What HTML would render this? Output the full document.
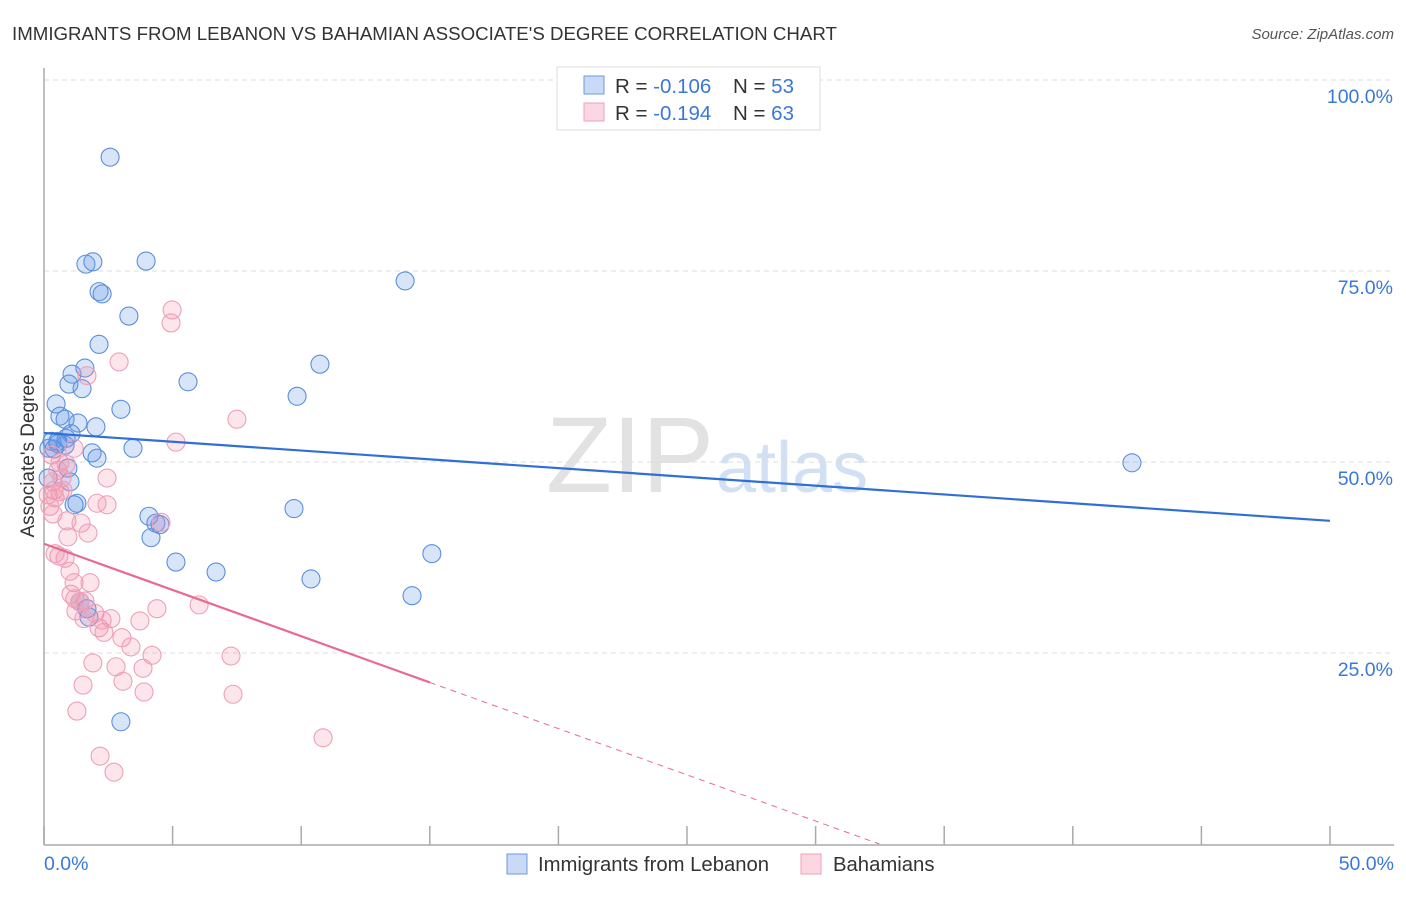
<!DOCTYPE html>
<html><head><meta charset="utf-8"><style>
body{margin:0;background:#fff;font-family:"Liberation Sans",sans-serif;}
svg text{font-family:"Liberation Sans",sans-serif;}
</style></head><body>
<svg id="chart" width="1406" height="892" xmlns="http://www.w3.org/2000/svg">
<text x="12" y="40" font-size="18.7" fill="#333">IMMIGRANTS FROM LEBANON VS BAHAMIAN ASSOCIATE'S DEGREE CORRELATION CHART</text>
<text x="1394" y="39" font-size="15" fill="#555" font-style="italic" text-anchor="end">Source: ZipAtlas.com</text>
<text x="714" y="492" font-size="108" fill="#e2e2e2" font-family="Liberation Serif" text-anchor="end">ZIP</text>
<text x="716" y="492" font-size="72" fill="#d2e0f4">atlas</text>
<g id="grid"></g>
<g id="axes"></g>
<g id="marks"></g>
<text x="34" y="456" font-size="19" fill="#333" text-anchor="middle" transform="rotate(-90 34 456)">Associate's Degree</text>
<g>
<rect x="557" y="67" width="263" height="63" fill="#fff" stroke="#ddd"/>
<rect x="584" y="76" width="20" height="18" fill="rgba(100,150,230,0.35)" stroke="#6a9ae0"/>
<rect x="584" y="103" width="20" height="18" fill="rgba(240,140,170,0.35)" stroke="#eea0b8"/>
<text x="615" y="93" font-size="20.5" fill="#333">R = <tspan fill="#3a78d8">-0.106</tspan></text>
<text x="733" y="93" font-size="20.5" fill="#333">N = <tspan fill="#3a78d8">53</tspan></text>
<text x="615" y="120" font-size="20.5" fill="#333">R = <tspan fill="#3a78d8">-0.194</tspan></text>
<text x="733" y="120" font-size="20.5" fill="#333">N = <tspan fill="#3a78d8">63</tspan></text>
</g>
<g>
<rect x="507" y="854" width="20" height="20" fill="rgba(100,150,230,0.35)" stroke="#6a9ae0"/>
<text x="538" y="871" font-size="20.3" fill="#333">Immigrants from Lebanon</text>
<rect x="801" y="854" width="20" height="20" fill="rgba(240,140,170,0.35)" stroke="#eea0b8"/>
<text x="833" y="871" font-size="20.3" fill="#333">Bahamians</text>
</g>
</svg>
<script>
const yTicks=[25,50,75,100];
const yTickLabels=["25.0%","50.0%","75.0%","100.0%"];
const xLabels=["0.0%","50.0%"];
const blueX=[2.57,1.63,1.9,3.97,14.04,2.14,2.26,3.3,2.14,10.73,1.09,1.59,0.97,1.48,5.6,9.84,2.99,0.47,0.62,0.82,1.32,2.02,1.05,0.31,0.54,0.82,0.19,0.86,3.46,1.87,2.06,0.93,1.01,42.3,0.16,1.28,1.17,9.72,4.08,4.35,4.51,4.16,15.08,5.13,6.69,10.38,14.31,1.4,1.67,1.75,2.99,0.54,0.39];
const blueY=[89.9,75.9,76.2,76.3,73.7,72.3,72.0,69.1,65.4,62.8,61.5,62.3,60.2,59.6,60.5,58.6,56.9,57.6,56.0,55.6,55.1,54.6,53.7,52.7,52.4,52.2,51.8,53.1,51.8,51.2,50.5,49.2,47.4,49.9,47.9,44.6,44.4,43.9,42.9,42.0,41.8,40.1,38.0,36.9,35.6,34.7,32.5,31.7,30.8,29.7,16.0,52.7,51.7];
const pinkX=[7.5,2.92,4.98,4.94,1.67,5.13,1.17,0.54,0.7,0.35,0.39,0.62,0.16,0.43,0.74,0.23,2.45,2.06,2.45,0.35,0.89,1.44,4.55,1.71,0.93,0.58,0.82,1.01,1.17,1.79,1.05,1.2,1.59,1.24,1.98,4.39,6.03,1.55,2.6,3.73,2.14,2.33,3.03,3.38,1.9,2.8,4.2,3.85,7.27,1.52,3.89,3.07,7.35,1.28,10.85,2.18,2.72,0.62,0.31,0.86,2.26,0.43,1.4];
const pinkY=[55.6,63.1,69.9,68.2,61.3,52.6,51.8,48.9,47.9,47.4,46.3,46.1,45.7,45.3,46.3,44.2,47.9,44.6,44.4,43.2,42.3,42.0,42.1,40.7,40.2,37.7,37.4,35.7,34.2,34.2,32.7,32.1,31.8,30.5,30.2,30.8,31.3,29.5,29.5,29.2,28.3,27.7,27.0,25.8,23.7,23.2,24.7,23.0,24.6,20.8,19.9,21.3,19.6,17.4,13.9,11.5,9.4,49.9,50.9,49.7,29.3,38.0,31.7];
const blueTrend=[53.8,42.3]; // y at x=0 and x=50
const pinkTrend=[39.3,-1.21]; // intercept, slope
const pinkSolidEnd=15;
const X=v=>44+v/50*1286, Y=v=>844-v/100*764;
const NS="http://www.w3.org/2000/svg";
function mk(tag,attrs,parent){const e=document.createElementNS(NS,tag);for(const k in attrs)e.setAttribute(k,attrs[k]);document.getElementById(parent).appendChild(e);return e;}
yTicks.forEach((t,i)=>{
 const g=mk('line',{x1:44,x2:1394,y1:Y(t),y2:Y(t),stroke:'#ddd','stroke-dasharray':'5,4'},'grid');
 
 
 const l=mk('text',{x:1393,y:Y(t)+23,'font-size':19.5,fill:'#3a78d8','text-anchor':'end'},'grid');
 l.textContent=yTickLabels[i];
 
 
});
const ax=mk('line',{x1:44,x2:44,y1:68,y2:845,stroke:'#aaa','stroke-width':1.5},'axes');


const bx=mk('line',{x1:44,x2:1394,y1:845,y2:845,stroke:'#aaa','stroke-width':1.5},'axes');


for(let i=0;i<=10;i++){const t=mk('line',{x1:X(i*5),x2:X(i*5),y1:826,y2:845,stroke:'#aaa','stroke-width':1.5},'axes');
 
 }
[[0,'start',44],[50,'end',1394]].forEach((d,i)=>{const t=mk('text',{x:d[2],y:870,'font-size':19.5,fill:'#3a78d8','text-anchor':d[1]},'axes');t.textContent=xLabels[i];
 
 });
blueX.forEach((x,i)=>{const c=mk('circle',{cx:X(x),cy:Y(blueY[i]),r:9,fill:'rgba(100,150,230,0.25)',stroke:'#5a8fdd','stroke-width':1.1},'marks');
 
 });
pinkX.forEach((x,i)=>{const c=mk('circle',{cx:X(x),cy:Y(pinkY[i]),r:9,fill:'rgba(240,140,170,0.22)',stroke:'#eea0b8','stroke-width':1.1},'marks');
 
 });
const bl=mk('line',{x1:X(0),y1:Y(blueTrend[0]),x2:X(50),y2:Y(blueTrend[1]),stroke:'#2f6fd6','stroke-width':2.2},'marks');


const pEnd=-pinkTrend[0]/pinkTrend[1];
const pl=mk('line',{x1:X(0),y1:Y(pinkTrend[0]),x2:X(pinkSolidEnd),y2:Y(pinkTrend[0]+pinkTrend[1]*pinkSolidEnd),stroke:'#e86a94','stroke-width':2.2},'marks');


const pd=mk('line',{x1:X(pinkSolidEnd),y1:Y(pinkTrend[0]+pinkTrend[1]*pinkSolidEnd),x2:X(pEnd),y2:Y(0),stroke:'#e86a94','stroke-width':1,'stroke-dasharray':'6,5'},'marks');


</script>
</body></html>
